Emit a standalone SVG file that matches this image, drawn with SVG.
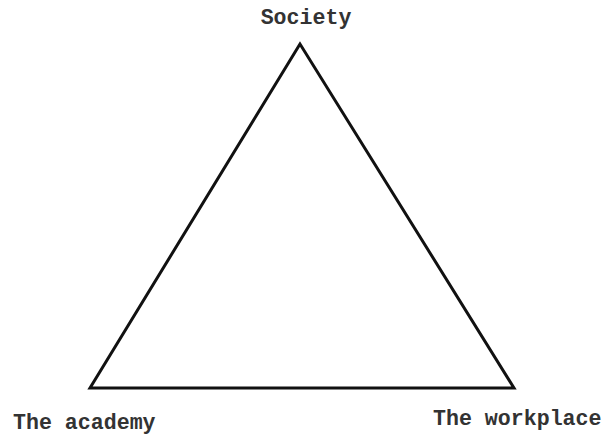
<svg xmlns="http://www.w3.org/2000/svg" width="604" height="434" viewBox="0 0 604 434">
<style>
.lbl{font-family:"Liberation Mono","Courier New",monospace;font-weight:bold;font-size:21.6px;fill:#333}
.edge{fill:none;stroke:#111;stroke-width:3;stroke-linejoin:miter}
</style>
<rect width="604" height="434" fill="#fff"/>
<g id="connectors">
<polygon class="edge" points="300,44 90,388 514,388"/>
</g>
<g id="society"><text class="lbl" x="306" y="24" text-anchor="middle">Society</text></g>
<g id="academy"><text class="lbl" x="13" y="429">The academy</text></g>
<g id="workplace"><text class="lbl" x="433" y="425">The workplace</text></g>
</svg>
